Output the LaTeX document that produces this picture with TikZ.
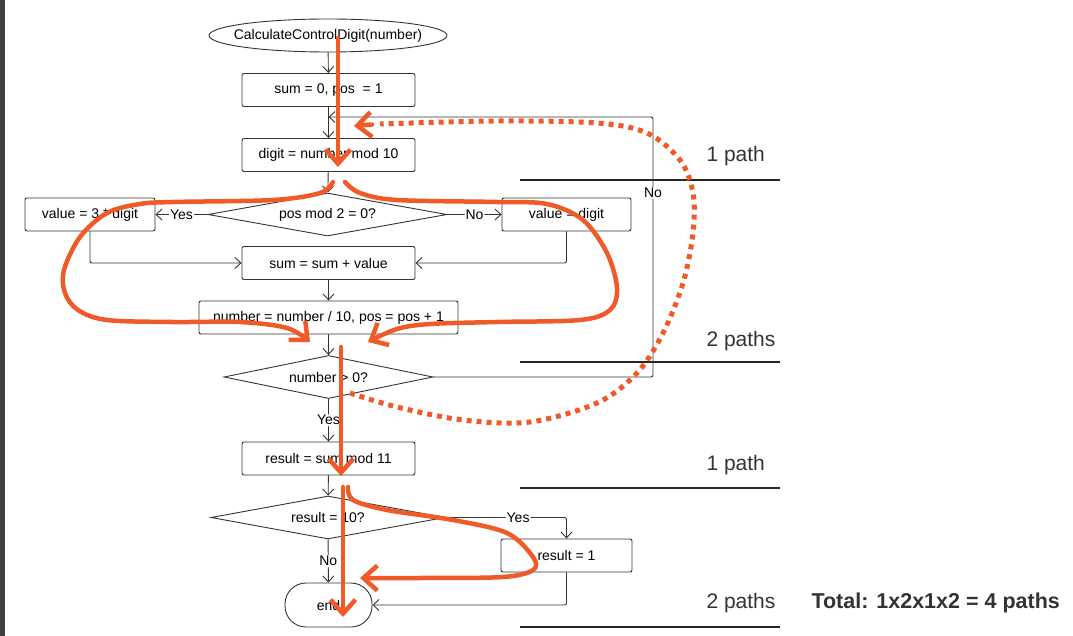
\documentclass[tikz,border=0pt]{standalone}
\usepackage{fontspec}
\setmainfont{Liberation Sans}
\usetikzlibrary{arrows.meta,shapes.geometric,calc}
\definecolor{traco}{HTML}{333333}
\definecolor{laranja}{RGB}{240,90,40}
\definecolor{texto}{HTML}{333333}

\begin{document}
\begin{tikzpicture}[x=1pt, y=-1pt, > = {Straight Barb[length=6pt,width=11pt]}, font=\fontsize{14}{16}\selectfont]
            % Estilo para os nós
            \tikzstyle{caixa}=[rectangle, draw=traco, line width=0.9pt, rounded corners=2pt, inner sep=0pt, minimum height=33pt]
            \tikzstyle{decisao}=[diamond, draw=traco, line width=0.9pt, aspect=5, inner sep=0pt, minimum height=43pt]
            \tikzstyle{seta}=[->, draw=traco, line width=0.9pt, rounded corners=2pt]
            \tikzstyle{rotulo}=[fill=white, inner sep=1pt]
            \tikzstyle{marca}=[draw=laranja, line width=4.5pt, line cap=round, line join=round, -{Straight Barb[length=14pt,width=25pt]}]
            \tikzstyle{pontos}=[draw=laranja, line width=5pt, line cap=butt, dash pattern=on 5pt off 5pt]
            \tikzstyle{divisor}=[draw=black!85, line width=2.5pt]
            \tikzstyle{contagem}=[anchor=west, text=texto, font=\fontsize{21}{24}\selectfont]

            \useasboundingbox (0,0) rectangle (1073,636);
            \fill[black!75] (0,0) rectangle (5,636);

            % Nós
            \node[ellipse, draw=traco, line width=0.9pt, minimum width=238pt, minimum height=33pt, inner xsep=-14pt, inner ysep=0pt] (inicio) at (328,35.5) {CalculateControlDigit(number)};
            \node[caixa, minimum width=173pt] (zera) at (328.5,90) {sum = 0, pos\ \ = 1};
            \coordinate (juncao) at (328.5,117);
            \node[caixa, minimum width=173pt] (digito) at (328.5,155) {digit = number mod 10};
            \node[decisao, minimum width=239pt] (paridade) at (327.5,214.5) {pos mod 2 = 0?};
            \node[caixa, minimum width=130pt] (triplo) at (90,214.5) {value = 3 * digit};
            \node[caixa, minimum width=129pt] (simples) at (566.5,214.5) {value = digit};
            \node[caixa, minimum width=173pt] (soma) at (328.5,263) {sum = sum + value};
            \node[caixa, minimum width=259pt] (avanca) at (328.5,317.5) {number = number / 10, pos = pos + 1};
            \node[decisao, minimum width=209pt] (teste) at (328.5,377) {number > 0?};
            \coordinate (volta) at (653,117);
            \node[caixa, minimum width=173pt] (resto) at (328.5,458.5) {result = sum mod 11};
            \node[decisao, minimum width=234pt] (dez) at (328,517.5) {result = 10?};
            \node[caixa, minimum width=131pt] (um) at (566.5,555.5) {result = 1};
            \node[rectangle, draw=traco, line width=0.9pt, rounded corners=21pt, minimum width=87pt, minimum height=44pt] (fim) at (328.5,605) {end};

            % Arestas
            \draw[seta] (inicio) -- (zera);
            \draw[seta] (zera) -- (digito);
            \draw[seta] (digito) -- (paridade);
            \draw[seta] (paridade.west) -- node[rotulo] {Yes} (triplo.east);
            \draw[seta] (paridade.east) -- node[rotulo] {No} (simples.west);
            \draw[seta] (triplo.south) |- (soma.west);
            \draw[seta] (simples.south) |- (soma.east);
            \draw[seta] (soma) -- (avanca);
            \draw[seta] (avanca) -- (teste);
            \draw[seta] (teste.east) -| node[rotulo, pos=0.854] {No} (volta) -- (juncao);
            \draw[seta] (teste) -- node[rotulo] {Yes} (resto);
            \draw[seta] (resto) -- (dez);
            \draw[seta] (dez.east) -| node[rotulo, pos=0.3] {Yes} (um.north);
            \draw[seta] (dez) -- node[rotulo] {No} (fim);
            \draw[seta] (um.south) |- (fim.east);

            % Contagem de caminhos
            \draw[divisor] (520,180) -- (780,180);
            \draw[divisor] (520,362) -- (780,362);
            \draw[divisor] (520,488) -- (780,488);
            \draw[divisor] (520,627) -- (780,627);
            \node[contagem] (c1) at (703,156) {1 path};
            \node[contagem] (c2) at (703,341) {2 paths};
            \node[contagem] (c3) at (703,465) {1 path};
            \node[contagem] (c4) at (703,603) {2 paths};
            \node[contagem, font=\bfseries\fontsize{21.5}{24}\selectfont] (total) at (808,603) {Total: 1x2x1x2 = 4 paths};

            % Marcas a mão
            \draw[marca] (338,38) -- (338,167);
            \draw[marca] plot[smooth, tension=0.55] coordinates {(333,182) (320,193) (273,200) (173,202) (140,204) (107,213) (80,237) (64,270) (65,293) (78,310) (107,320) (173,322) (240,322) (287,328) (310,342)};
            \draw[marca] plot[smooth, tension=0.55] coordinates {(345,182) (360,193) (397,200) (497,202) (547,204) (583,220) (607,253) (617,288) (610,310) (580,320) (497,322) (430,324) (397,329) (368,342)};
            \draw[marca] (341,347) -- (341,476);
            \draw[pontos] plot[smooth, tension=0.55] coordinates {(350,393) (397,407) (463,420) (530,422) (597,403) (637,373) (663,333) (683,283) (693,233) (693,193) (680,160) (647,133) (597,123) (497,121) (380,124)};
            \draw[marca] (372,124.5) -- (354,126);
            \draw[marca] (343,487) -- (343,617);
            \draw[marca] plot[smooth, tension=0.55] coordinates {(348,487) (353,500) (387,510) (453,520) (507,533) (533,557) (533,570) (503,577) (420,578) (360,578)};
        \end{tikzpicture}
\end{document}
